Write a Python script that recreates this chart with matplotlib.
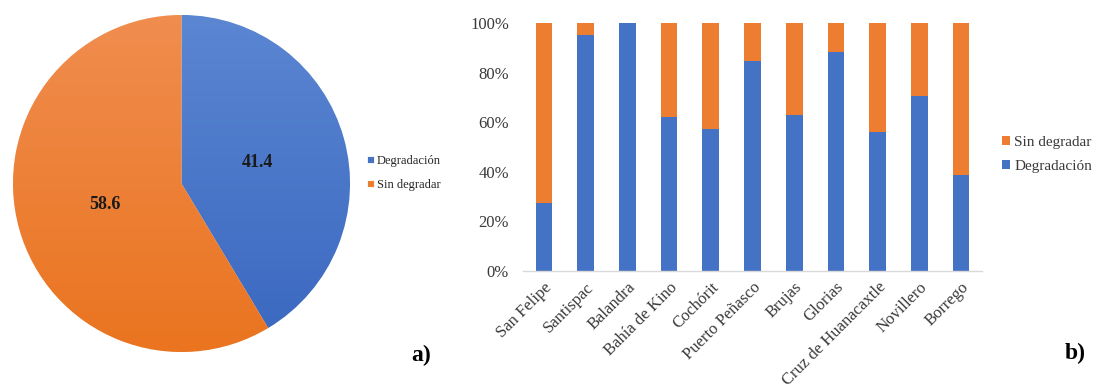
import numpy as np
import matplotlib
matplotlib.use("Agg")
import matplotlib.pyplot as plt
from matplotlib.ticker import PercentFormatter
from matplotlib.colors import LinearSegmentedColormap

plt.rcParams['font.family'] = ['Liberation Serif', 'DejaVu Serif']

# Panel a) overall share
pie_labels = ["Degradación", "Sin degradar"]
pie_values = [41.4, 58.6]

# Panel b) share by site (%)
sites = ["San Felipe", "Santispac", "Balandra", "Bahía de Kino", "Cochórit",
         "Puerto Peñasco", "Brujas", "Glorias", "Cruz de Huanacaxtle",
         "Novillero", "Borrego"]
degradacion = [27.4, 95.3, 100.0, 62.1, 57.4, 84.8, 62.9, 88.5, 56.0, 70.6, 38.7]
sin_degradar = [100 - v for v in degradacion]

BLUE = "#4472C4"
ORANGE = "#ED7D31"

W, H = 1099, 389
fig = plt.figure(figsize=(W / 100, H / 100), dpi=100)

# ---- a) pie ----
cx, cy, r = 181.5, 183.5, 168.5
ax1 = fig.add_axes([(cx - r) / W, 1 - (cy + r) / H, 2 * r / W, 2 * r / H])
wedges, _, autotexts = ax1.pie(
    pie_values, colors=[BLUE, ORANGE], startangle=90, counterclock=False,
    radius=1.0, autopct=lambda p: f"{p:.1f}", pctdistance=0.47,
    wedgeprops=dict(linewidth=0.6, edgecolor="white"),
    textprops=dict(fontsize=13, fontweight="bold", color="#1a1a1a"))
ax1.set_xlim(-1, 1)
ax1.set_ylim(-1, 1)
ax1.set_aspect("equal")

# soft vertical shading inside each wedge
grad = np.linspace(0, 1, 256).reshape(-1, 1)
shades = [("#5B86D2", "#3A67C0"), ("#F08D4F", "#EA741F")]
for w, (top, bot) in zip(wedges, shades):
    cmap = LinearSegmentedColormap.from_list("shade", [bot, top])
    im = ax1.imshow(grad, cmap=cmap, extent=(-1, 1, -1, 1), origin="lower",
                    aspect="auto", zorder=w.get_zorder() + 0.1)
    im.set_clip_path(w)
for t in autotexts:
    t.set_zorder(5)

fig.legend(handles=wedges, labels=pie_labels, loc="upper left",
           bbox_to_anchor=(362 / W, 1 - 150 / H), frameon=False,
           fontsize=9, handlelength=0.55, handleheight=0.55,
           handletextpad=0.25, labelspacing=0.95, borderaxespad=0,
           labelcolor="#262626")

fig.text(421 / W, 1 - 355 / H, "a)", fontsize=17, fontweight="bold",
         ha="center", va="center")

# ---- b) stacked bars ----
ax2 = fig.add_axes([523 / W, 1 - 271 / H, 459 / W, 248 / H])
x = np.arange(len(sites))
b1 = ax2.bar(x, degradacion, width=0.4, color=BLUE, label="Degradación")
b2 = ax2.bar(x, sin_degradar, width=0.4, bottom=degradacion, color=ORANGE,
             label="Sin degradar")
ax2.set_xlim(-0.5, len(sites) - 0.5)
ax2.set_ylim(0, 100)
ax2.set_yticks(np.arange(0, 101, 20))
ax2.yaxis.set_major_formatter(PercentFormatter(decimals=0))
ax2.set_xticks(x)
ax2.set_xticklabels(sites, rotation=45, ha="right", rotation_mode="anchor")
ax2.tick_params(axis="both", length=0, labelsize=12, colors="#3a3a3a")
ax2.tick_params(axis="y", pad=10)
ax2.tick_params(axis="x", pad=6)
for side in ("top", "right", "left"):
    ax2.spines[side].set_visible(False)
ax2.spines["bottom"].set_color("#D9D9D9")
ax2.spines["bottom"].set_linewidth(1.0)

fig.legend(handles=[b2, b1], labels=["Sin degradar", "Degradación"],
           loc="upper left", bbox_to_anchor=(996 / W, 1 - 130 / H),
           frameon=False, fontsize=11, handlelength=0.5, handleheight=0.5,
           handletextpad=0.3, labelspacing=0.7, borderaxespad=0,
           labelcolor="#3a3a3a")

fig.text(1075 / W, 1 - 353 / H, "b)", fontsize=17, fontweight="bold",
         ha="center", va="center")

fig.savefig("out.png", dpi=100, facecolor="white")
